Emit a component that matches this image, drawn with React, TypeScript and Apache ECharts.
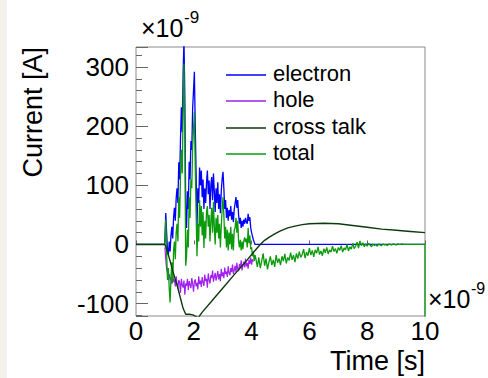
import React, { useEffect, useRef } from "react";
import * as echarts from "echarts";

// ---- data (values in units of 1e-9 A, time in units of 1e-9 s) ----
const seriesNames = ["electron", "hole", "cross talk", "total"];

const noisyStart = 1.0;
const noisyStep = 0.03;

const electronNoisy = [
  10, 53, 20, -10, -18, 5, -12, 15, 30, 10,
  45, 62, 40, 78, 95, 70, 139, 110, 179, 232,
  190, 290, 345, 250, 60, 28, 90, 60, 140, 110,
  175, 160, 230, 260, 292, 200, 120, 30, 95, 70,
  130, 100, 125, 80, 110, 60, 95, 70, 105, 125,
  85, 108, 60, 100, 114, 75, 120, 90, 55, 95,
  70, 105, 60, 85, 53, 90, 110, 123, 95, 60,
  75, 45, 62, 40, 58, 48, 65, 42, 55, 38,
  60, 70, 80, 62, 75, 50, 35, 45, 28, 40,
  30, 42, 35, 45, 38, 35, 52, 40, 46, 28,
  20, 14, 8, 4, 0,
];

const holeNoisy = [
  -5, -25, -42, -48, -57, -50, -61, -55, -67, -52,
  -63, -59, -71, -54, -66, -75, -60, -64, -82, -58,
  -69, -73, -61, -85, -66, -70, -58, -77, -62, -68,
  -74, -57, -66, -80, -63, -59, -71, -65, -76, -54,
  -67, -61, -72, -55, -64, -70, -51, -62, -58, -73,
  -49, -60, -66, -52, -57, -44, -63, -55, -48, -61,
  -53, -45, -59, -50, -62, -41, -54, -47, -57, -39,
  -50, -46, -55, -37, -48, -52, -40, -47, -34, -50,
  -43, -36, -47, -31, -42, -45, -33, -40, -27, -44,
  -35, -29, -39, -24, -37, -31, -41, -26, -33, -22,
  -34, -25, -29,
];

const totalNoisy = [
  5, 42, -15, -60, -40, -75, -98, -55, -30, -65,
  -10, 5, -25, 20, 35, 5, 80, 45, 115, 160,
  120, 225, 306, 180, -36, -20, 25, -5, 80, 45,
  110, 95, 165, 195, 224, 130, 55, -20, 35, 5,
  75, 30, 65, 15, 55, -6, 40, 10, 55, 65,
  30, 50, 5, 40, 62, 20, 72, 30, 0, 45,
  20, 50, 10, 35, -5, 30, 60, 80, 50, 10,
  30, -5, 25, -10, 20, 0, 30, -8, 18, -10,
  25, 28, 45, 20, 40, 5, -5, 8, -10, 5,
  -8, 6, 12, 4, 10, -5, 28, 2, 15, -8,
  -5, -20, -12, -28, -18,
];

const tailStart = 4.15;
const tailStep = 0.05;
const totalTail = [
  -25, -38, -22, -40, -28, -15, -36, -24, -42, -30,
  -20, -35, -26, -38, -18, -31, -24, -35, -20, -28,
  -16, -32, -22, -27, -14, -26, -18, -30, -15, -24,
  -12, -22, -17, -8, -23, -13, -19, -6, -18, -10,
  -21, -9, -15, -4, -17, -11, -19, -7, -14, -5,
  -16, -9, -13, -3, -12, -7, -15, -5, -10, -2,
  -13, -6, -9, 0, -11, -4, -8, 2, -7, -3,
  4, -6, 6, -2, 3, -4, 1, -3, 2, -1,
  -4, 1, -2, 0, -3, 1, -1, -2, 1, -1,
  0, -2, 1, 0, -1, 1, 0, -1, 1, 0,
  0, 1, 0, 0,
];
const leadTime = [0, 0.99];
const leadValue = [0, 0];
const totalEndTime = [9.4, 10, 10];
const totalEndValue = [0, 0, -140];

const crossTime = [
  0, 1.0, 1.1, 1.28, 1.45, 1.63, 1.72, 1.85, 1.97, 2.15,
  2.3, 2.6, 3.0, 3.4, 3.8, 4.05, 4.3, 4.45, 4.6, 4.8,
  5.0, 5.25, 5.5, 5.75, 6.0, 6.5, 7.0, 7.5, 8.0, 8.5,
  9.0, 9.5, 10,
];
const crossValue = [
  0, 0, -14, -46, -74, -108, -118, -118, -119, -124,
  -114, -97, -74, -51, -29, -14, 0, 7, 12, 18,
  23, 28, 31, 33.5, 35, 36, 35, 32, 29, 26,
  24, 22, 20,
];

const xTickValues = [0, 2, 4, 6, 8, 10];

// ---- helpers to build [t, v] pairs ----
const gridPairs = (start: number, step: number, values: number[]) =>
  values.map((v, i) => [Number((start + step * i).toFixed(4)), v]);
const zipPairs = (ts: number[], vs: number[]) => ts.map((t, i) => [t, vs[i]]);

const FONT = "'Liberation Sans', Arial, Helvetica, sans-serif";
const COLORS = ["#0000ff", "#a020f0", "#0d3a0d", "#0b9a0b"];

export default function App() {
  const ref = useRef<HTMLDivElement>(null);

  useEffect(() => {
    if (!ref.current) return;
    const chart = echarts.init(ref.current, undefined, { renderer: "svg" });

    const electronData = [
      ...zipPairs(leadTime, leadValue),
      ...gridPairs(noisyStart, noisyStep, electronNoisy),
      [xTickValues[xTickValues.length - 1], 0],
    ];
    const holeData = gridPairs(noisyStart, noisyStep, holeNoisy);
    const totalData = [
      ...zipPairs(leadTime, leadValue),
      ...gridPairs(noisyStart, noisyStep, totalNoisy),
      ...gridPairs(tailStart, tailStep, totalTail),
      ...zipPairs(totalEndTime, totalEndValue),
    ];
    const crossData = zipPairs(crossTime, crossValue);

    const legendRows = [75, 101, 128, 154];
    const legendGraphics: any[] = [];
    seriesNames.forEach((name, i) => {
      legendGraphics.push({
        type: "line",
        shape: { x1: 226, y1: legendRows[i], x2: 266, y2: legendRows[i] },
        style: { stroke: COLORS[i], lineWidth: 1.5 },
        silent: true,
      });
      legendGraphics.push({
        type: "text",
        x: 273,
        y: legendRows[i] - 2,
        style: {
          text: name,
          fontSize: 22,
          fontFamily: FONT,
          fill: "#000",
          verticalAlign: "middle",
          align: "left",
        },
        silent: true,
      });
    });

    const mkLine = (name: string, data: any[], color: string, width: number, z: number) => ({
      name,
      type: "line",
      data,
      showSymbol: false,
      symbol: "none",
      clip: true,
      silent: true,
      z,
      lineStyle: { color, width },
      itemStyle: { color },
      emphasis: { disabled: true },
    });

    chart.setOption({
      animation: false,
      backgroundColor: "#ffffff",
      grid: {
        left: 136,
        top: 47,
        width: 289,
        height: 269,
        show: true,
        borderColor: "#8a8a8a",
        borderWidth: 1,
        backgroundColor: "transparent",
      },
      xAxis: {
        type: "value",
        min: xTickValues[0],
        max: xTickValues[xTickValues.length - 1],
        interval: 2,
        axisLine: { show: false },
        axisTick: { show: true, inside: true, length: 4, lineStyle: { color: "#666" } },
        minorTick: { show: false },
        splitLine: { show: false },
        axisLabel: { fontSize: 26, fontFamily: FONT, color: "#000", margin: 2 },
      },
      yAxis: {
        type: "value",
        min: -121,
        max: 334,
        splitNumber: 5,
        axisLine: { show: false },
        axisTick: { show: true, inside: true, length: 12, lineStyle: { color: "#666" } },
        minorTick: { show: true, splitNumber: 5, length: 6, lineStyle: { color: "#666" } },
        splitLine: { show: false },
        axisLabel: {
          fontSize: 26,
          fontFamily: FONT,
          color: "#000",
          margin: 7,
          showMinLabel: false,
          showMaxLabel: false,
        },
      },
      series: [
        mkLine(seriesNames[0], electronData, COLORS[0], 1.3, 2),
        mkLine(seriesNames[1], holeData, COLORS[1], 1.2, 3),
        mkLine(seriesNames[3], totalData, COLORS[3], 1.3, 4),
        mkLine(seriesNames[2], crossData, COLORS[2], 1.4, 5),
      ],
      graphic: [
        ...legendGraphics,
        {
          type: "text",
          x: 33,
          y: 47,
          rotation: Math.PI / 2,
          style: {
            text: "Current [A]",
            fontSize: 27,
            fontFamily: FONT,
            fill: "#000",
            align: "right",
            verticalAlign: "middle",
          },
          silent: true,
        },
        {
          type: "text",
          x: 425,
          y: 361,
          style: {
            text: "Time [s]",
            fontSize: 27,
            fontFamily: FONT,
            fill: "#000",
            align: "right",
            verticalAlign: "middle",
          },
          silent: true,
        },
        {
          type: "text",
          x: 141,
          y: 28,
          style: { text: "×10", fontSize: 25, fontFamily: FONT, fill: "#000", align: "left", verticalAlign: "middle" },
          silent: true,
        },
        {
          type: "text",
          x: 184,
          y: 17,
          style: { text: "-9", fontSize: 17, fontFamily: FONT, fill: "#000", align: "left", verticalAlign: "middle" },
          silent: true,
        },
        {
          type: "text",
          x: 428,
          y: 299,
          style: { text: "×10", fontSize: 25, fontFamily: FONT, fill: "#000", align: "left", verticalAlign: "middle" },
          silent: true,
        },
        {
          type: "text",
          x: 471,
          y: 288,
          style: { text: "-9", fontSize: 16, fontFamily: FONT, fill: "#000", align: "left", verticalAlign: "middle" },
          silent: true,
        },
      ],
    });

    return () => {
      chart.dispose();
    };
  }, []);

  return (
    <div style={{ position: "fixed", left: 0, top: 0, width: 488, height: 378, background: "#ffffff", overflow: "hidden" }}>
      <div ref={ref} style={{ position: "absolute", left: 0, top: 0, width: 488, height: 378 }} />
      <div style={{ position: "absolute", left: 0, top: 0, width: 7, height: 378, background: "#f2f1ec" }} />
    </div>
  );
}
